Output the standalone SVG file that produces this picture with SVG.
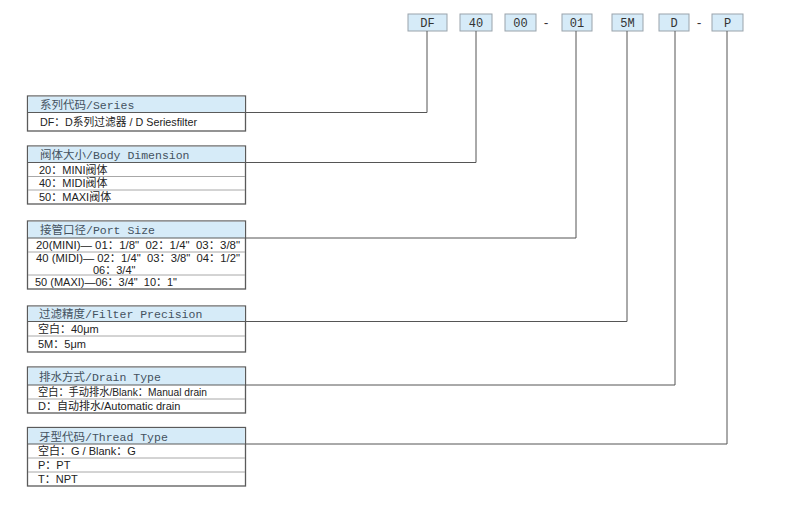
<svg xmlns="http://www.w3.org/2000/svg" width="790" height="510" viewBox="0 0 790 510">
<style>
.code{fill:#d6ebf8;stroke:#9aa3ab;stroke-width:1}
.codet{font-family:"Liberation Mono","Noto Sans CJK SC",monospace;font-size:12px;fill:#333;text-anchor:middle}
.box{fill:#fff;stroke:#5a5a5a;stroke-width:1.3}
.hdr{fill:#d6ebf8}
.div{stroke:#a8a8a8;stroke-width:1}
.hdrline{stroke:#5a5a5a;stroke-width:1}
.ht{font-family:"Liberation Mono","Noto Sans CJK SC",monospace;font-size:11.5px;fill:#44525f}
.rt{font-family:"Liberation Sans","Noto Sans CJK SC",sans-serif;font-size:11px;fill:#222}
.conn{fill:none;stroke:#555;stroke-width:1}
</style>
<rect width="790" height="510" fill="#fff"/>
<g id="codes">
<g id="code-DF"><rect class="code" x="408" y="14" width="39" height="17"/><text class="codet" x="427.5" y="26.5">DF</text></g>
<g id="code-40"><rect class="code" x="460" y="14" width="32" height="17"/><text class="codet" x="476" y="26.5">40</text></g>
<g id="code-00"><rect class="code" x="505" y="14" width="31" height="17"/><text class="codet" x="520.5" y="26.5">00</text></g>
<text class="codet" x="546" y="26.5">-</text>
<g id="code-01"><rect class="code" x="562" y="14" width="30" height="17"/><text class="codet" x="577" y="26.5">01</text></g>
<g id="code-5M"><rect class="code" x="612" y="14" width="31" height="17"/><text class="codet" x="627.5" y="26.5">5M</text></g>
<g id="code-D"><rect class="code" x="659" y="14" width="30" height="17"/><text class="codet" x="674" y="26.5">D</text></g>
<text class="codet" x="699" y="26.5">-</text>
<g id="code-P"><rect class="code" x="712" y="14" width="31" height="17"/><text class="codet" x="727.5" y="26.5">P</text></g>
</g>
<g id="connectors">
<polyline class="conn" points="245.5,112.5 427,112.5 427,31"/>
<polyline class="conn" points="245.5,162.5 476,162.5 476,31"/>
<polyline class="conn" points="245.5,238 576,238 576,31"/>
<polyline class="conn" points="245.5,321.5 627,321.5 627,31"/>
<polyline class="conn" points="245.5,385 675,385 675,31"/>
<polyline class="conn" points="245.5,444 727,444 727,31"/>
</g>
<g id="series">
<rect class="box" x="27.5" y="96" width="218" height="35"/>
<rect class="hdr" x="28.2" y="96.7" width="216.6" height="15.8"/>
<line class="hdrline" x1="27.5" y1="112.5" x2="245.5" y2="112.5"/>
<text class="ht" x="40" y="108.5">系列代码/Series</text>
<text class="rt" x="40" y="126" textLength="157" lengthAdjust="spacingAndGlyphs">DF：D系列过滤器 / D Seriesfilter</text>
</g>
<g id="body">
<rect class="box" x="27.5" y="146" width="218" height="58"/>
<rect class="hdr" x="28.2" y="146.7" width="216.6" height="15.8"/>
<line class="hdrline" x1="27.5" y1="162.5" x2="245.5" y2="162.5"/>
<line class="div" x1="28" y1="176.5" x2="245" y2="176.5"/>
<line class="div" x1="28" y1="190" x2="245" y2="190"/>
<text class="ht" x="40" y="158.5">阀体大小/Body Dimension</text>
<text class="rt" x="39" y="173.5">20：MINI阀体</text>
<text class="rt" x="39" y="187">40：MIDI阀体</text>
<text class="rt" x="39" y="200.5">50：MAXI阀体</text>
</g>
<g id="port">
<rect class="box" x="27.5" y="221" width="218" height="68"/>
<rect class="hdr" x="28.2" y="221.7" width="216.6" height="16.3"/>
<line class="hdrline" x1="27.5" y1="238" x2="245.5" y2="238"/>
<line class="div" x1="28" y1="252" x2="245" y2="252"/>
<line class="div" x1="28" y1="275" x2="245" y2="275"/>
<text class="ht" x="40" y="234">接管口径/Port Size</text>
<text class="rt" xml:space="preserve" x="36" y="249" textLength="204" lengthAdjust="spacingAndGlyphs">20(MINI)— 01：1/8"  02：1/4"  03：3/8"</text>
<text class="rt" xml:space="preserve" x="36" y="262" textLength="204" lengthAdjust="spacingAndGlyphs">40 (MIDI)— 02：1/4"  03：3/8"  04：1/2"</text>
<text class="rt" x="93" y="273.5">06：3/4"</text>
<text class="rt" xml:space="preserve" x="35" y="286" textLength="142" lengthAdjust="spacingAndGlyphs">50 (MAXI)—06：3/4"  10：1"</text>
</g>
<g id="filter">
<rect class="box" x="27.5" y="306" width="218" height="46"/>
<rect class="hdr" x="28.2" y="306.7" width="216.6" height="14.8"/>
<line class="hdrline" x1="27.5" y1="321.5" x2="245.5" y2="321.5"/>
<line class="div" x1="28" y1="336" x2="245" y2="336"/>
<text class="ht" x="39" y="318">过滤精度/Filter Precision</text>
<text class="rt" x="38" y="333">空白：40μm</text>
<text class="rt" x="38" y="348">5M：5μm</text>
</g>
<g id="drain">
<rect class="box" x="27.5" y="367" width="218" height="46"/>
<rect class="hdr" x="28.2" y="367.7" width="216.6" height="17.3"/>
<line class="hdrline" x1="27.5" y1="385" x2="245.5" y2="385"/>
<line class="div" x1="28" y1="399" x2="245" y2="399"/>
<text class="ht" x="39" y="380.5">排水方式/Drain Type</text>
<text class="rt" x="38" y="396" textLength="169" lengthAdjust="spacingAndGlyphs">空白：手动排水/Blank：Manual drain</text>
<text class="rt" x="38" y="410">D：自动排水/Automatic drain</text>
</g>
<g id="thread">
<rect class="box" x="27.5" y="427.5" width="218" height="58.5"/>
<rect class="hdr" x="28.2" y="428.2" width="216.6" height="15.8"/>
<line class="hdrline" x1="27.5" y1="444" x2="245.5" y2="444"/>
<line class="div" x1="28" y1="458" x2="245" y2="458"/>
<line class="div" x1="28" y1="472" x2="245" y2="472"/>
<text class="ht" x="39" y="440.5">牙型代码/Thread Type</text>
<text class="rt" x="38" y="455">空白：G / Blank：G</text>
<text class="rt" x="38" y="469">P：PT</text>
<text class="rt" x="38" y="483">T：NPT</text>
</g>
</svg>
